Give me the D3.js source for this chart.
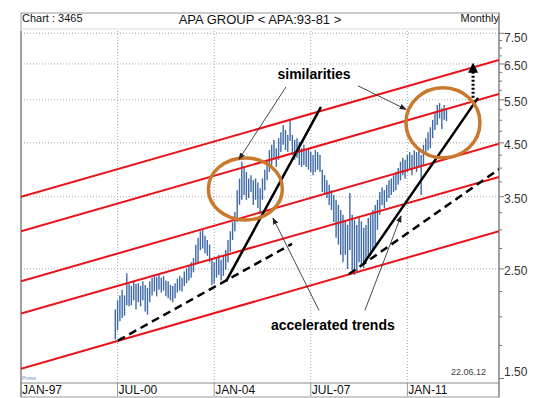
<!DOCTYPE html>
<html>
<head>
<meta charset="utf-8">
<script src="https://cdn.jsdelivr.net/npm/d3@7"></script>
<style>
body { margin: 0; background: #fff; }
svg text { font-family: "Liberation Sans", Arial, sans-serif; }
</style>
</head>
<body>
<div id="chart"></div>
<script>
// svg size
var width = 550, height = 398;

// monthly bars, first one is Jun 2000
var firstMonth = 2000 + 5/12;
var highs = [2.07, 2.16, 2.21, 2.27, 2.21, 2.45, 2.33,
    2.31, 2.36, 2.33, 2.34, 2.31, 2.36, 2.32, 2.29, 2.36, 2.40, 2.42, 2.41,
    2.43, 2.40, 2.42, 2.37, 2.36, 2.32, 2.31, 2.34, 2.39, 2.42, 2.40, 2.47,
    2.51, 2.54, 2.58, 2.63, 2.80, 2.89, 2.98, 3.00, 2.92, 2.86, 2.80, 2.63,
    2.58, 2.63, 2.67, 2.61, 2.66, 2.73, 2.86, 2.98, 3.11, 3.26, 3.61, 3.81,
    4.12, 4.04, 3.93, 3.81, 3.87, 3.78, 3.81, 3.74, 3.64, 3.81, 3.97, 4.16,
    4.35, 4.46, 4.56, 4.39, 4.60, 4.73, 4.89, 4.78, 4.67, 5.01, 4.67, 4.56,
    4.60, 4.52, 4.39, 4.46, 4.35, 4.39, 4.31, 4.25, 4.35, 4.31, 4.25, 3.97,
    3.87, 3.78, 3.70, 3.61, 3.53, 3.45, 3.37, 3.29, 3.22, 3.14, 3.07, 3.56,
    3.22, 3.14, 3.07, 3.17, 3.12, 3.03, 3.07, 3.17, 3.22, 3.29, 3.37, 3.45,
    3.58, 3.66, 3.61, 3.70, 3.78, 3.81, 3.87, 3.93, 4.00, 4.12, 4.20, 4.16,
    4.25, 4.31, 4.25, 4.35, 4.31, 4.39, 4.25, 4.46, 4.60, 4.73, 4.84, 5.01,
    5.20, 5.37, 5.42, 5.29, 5.37, 5.29];
var lows = [1.80, 1.88, 1.96, 1.99, 2.01, 2.11, 2.10,
    2.11, 2.16, 2.07, 2.14, 2.10, 2.16, 2.05, 2.02, 2.14, 2.21, 2.25, 2.20,
    2.27, 2.24, 2.26, 2.20, 2.18, 2.16, 2.14, 2.18, 2.24, 2.26, 2.25, 2.31,
    2.34, 2.37, 2.40, 2.46, 2.55, 2.58, 2.73, 2.75, 2.69, 2.66, 2.58, 2.32,
    2.34, 2.40, 2.43, 2.37, 2.42, 2.49, 2.58, 2.71, 2.86, 2.98, 3.11, 3.37,
    3.45, 3.53, 3.45, 3.48, 3.58, 3.37, 3.45, 3.32, 3.23, 3.45, 3.61, 3.78,
    3.93, 4.06, 4.20, 4.02, 4.16, 4.31, 4.46, 4.35, 4.31, 4.54, 4.25, 4.16,
    4.20, 4.06, 4.02, 4.06, 4.02, 3.97, 3.93, 3.87, 3.93, 3.97, 3.93, 3.58,
    3.53, 3.48, 3.37, 3.29, 3.11, 2.89, 2.80, 2.67, 2.58, 2.67, 2.50, 2.73,
    2.49, 2.43, 2.46, 2.58, 2.55, 2.51, 2.58, 2.63, 2.67, 2.73, 2.80, 3.00,
    3.22, 3.37, 3.32, 3.42, 3.48, 3.53, 3.58, 3.61, 3.70, 3.78, 3.87, 3.81,
    3.93, 3.97, 3.87, 4.02, 3.93, 4.02, 3.53, 4.06, 4.25, 4.35, 4.39, 4.60,
    4.78, 4.89, 5.04, 4.80, 5.01, 4.98];

// axes
var yearStart = 1997, yearEnd = 2014.32;
var priceMin = 1.469, priceMax = 7.58;
var yTicks = [7.5, 6.5, 5.5, 4.5, 3.5, 2.5, 1.5];
var xTicks = [1997, 2000.5, 2004, 2007.5, 2011];
var xTickLabels = ["JAN-97", "JUL-00", "JAN-04", "JUL-07", "JAN-11"];

// channel lines (price at left and right edge)
var channelLeft = [3.50, 2.98, 2.36, 2.03, 1.57];
var channelRight = [6.62, 5.65, 4.48, 3.84, 2.98];

// trend lines [year1, price1, year2, price2]
var dashedTrends = [[2000.51, 1.79, 2006.82, 2.81], [2008.88, 2.44, 2014.32, 3.98]];
var solidTrends = [[2004.43, 2.36, 2007.87, 5.32], [2009.43, 2.57, 2013.56, 5.55]];
var targetArrow = [2013.38, 5.55, 2013.38, 6.30];

// annotations
var circles = [[2005.13, 3.63], [2012.29, 4.94]];
var pointers = [[2006.60, 5.84, 2004.90, 4.17], [2009.21, 5.87, 2010.95, 5.26],
                [2007.80, 2.06, 2006.13, 3.17], [2009.46, 2.06, 2010.77, 3.20]];
var notes = [{text: "similarities", x: 2007.62, y: 6.05},
             {text: "accelerated trends", x: 2008.30, y: 1.88}];

var pLeft = 21, pRight = 499, pTop = 31, pBottom = 383;

var x = d3.scaleLinear().domain([yearStart, yearEnd]).range([pLeft, pRight]);
var y = d3.scaleLog().domain([priceMin, priceMax]).range([pBottom, pTop]);

var svg = d3.select("#chart").append("svg")
    .attr("width", width)
    .attr("height", height);

var defs = svg.append("defs");
defs.append("clipPath").attr("id", "plot")
    .append("rect").attr("x", pLeft).attr("y", pTop)
    .attr("width", pRight - pLeft).attr("height", pBottom - pTop);
defs.append("marker").attr("id", "thin")
    .attr("viewBox", "0 0 10 10").attr("refX", 9).attr("refY", 5)
    .attr("markerWidth", 7).attr("markerHeight", 7).attr("orient", "auto")
    .attr("markerUnits", "userSpaceOnUse")
    .append("path").attr("d", "M0,1 L10,5 L0,9 Z").attr("fill", "#222");
defs.append("marker").attr("id", "fat")
    .attr("viewBox", "0 0 10 10").attr("refX", 2).attr("refY", 5)
    .attr("markerWidth", 10).attr("markerHeight", 10).attr("orient", "auto")
    .attr("markerUnits", "userSpaceOnUse")
    .append("path").attr("d", "M0,0 L10,5 L0,10 Z").attr("fill", "#000");

// header
svg.append("rect").attr("x", pLeft).attr("y", 13)
    .attr("width", pRight - pLeft).attr("height", 384)
    .attr("fill", "none").attr("stroke", "#999").attr("stroke-width", 1);
svg.append("line").attr("x1", pLeft).attr("x2", pRight).attr("y1", 29).attr("y2", 29)
    .attr("stroke", "#ddd");
svg.append("text").attr("x", pLeft + 1).attr("y", 22)
    .attr("font-size", 11).attr("fill", "#111").text("Chart : 3465");
svg.append("text").attr("x", 260).attr("y", 24).attr("text-anchor", "middle")
    .attr("font-size", 13).attr("fill", "#111").text("APA GROUP < APA:93-81 >");
svg.append("text").attr("x", pRight).attr("y", 22).attr("text-anchor", "end")
    .attr("font-size", 11).attr("fill", "#111").text("Monthly");

// grid
var grid = svg.append("g").attr("stroke", "#aaa").attr("stroke-dasharray", "1,2");
grid.selectAll(".gx").data(xTicks.slice(1)).enter().append("line")
    .attr("x1", function(d){ return x(d); }).attr("x2", function(d){ return x(d); })
    .attr("y1", pTop).attr("y2", pBottom);
grid.selectAll(".gy").data(yTicks.slice(0, 6)).enter().append("line")
    .attr("x1", pLeft).attr("x2", pRight)
    .attr("y1", function(d){ return y(d); }).attr("y2", function(d){ return y(d); });

// bottom axis row
svg.append("line").attr("x1", pLeft).attr("x2", pRight).attr("y1", pBottom).attr("y2", pBottom)
    .attr("stroke", "#888");
svg.append("line").attr("x1", pLeft).attr("x2", pLeft).attr("y1", pTop).attr("y2", 397)
    .attr("stroke", "#777");
svg.selectAll(".xt").data(xTicks).enter().append("line")
    .attr("x1", function(d){ return x(d); }).attr("x2", function(d){ return x(d); })
    .attr("y1", pBottom).attr("y2", 396).attr("stroke", "#999");
svg.selectAll(".xl").data(xTicks).enter().append("text")
    .attr("x", function(d){ return x(d) + 1; }).attr("y", 394)
    .attr("font-size", 12).attr("fill", "#111")
    .text(function(d, i){ return xTickLabels[i]; });

// right price axis
svg.append("line").attr("x1", pRight).attr("x2", pRight).attr("y1", 13).attr("y2", 397)
    .attr("stroke", "#777");
var minor = d3.range(1.5, 7.51, 0.25);
svg.selectAll(".yt").data(minor).enter().append("line")
    .attr("x1", pRight).attr("x2", function(d){ return yTicks.indexOf(d) >= 0 ? pRight + 5 : pRight + 3; })
    .attr("y1", function(d){ return y(d); }).attr("y2", function(d){ return y(d); })
    .attr("stroke", "#777");
svg.selectAll(".yl").data(yTicks).enter().append("text")
    .attr("x", pRight + 5)
    .attr("y", function(d){ return Math.min(Math.max(y(d) + 6, 42), 376); })
    .attr("font-size", 12).attr("fill", "#333")
    .text(function(d){ return d3.format(".2f")(d); });

svg.append("text").attr("x", 486).attr("y", 375).attr("text-anchor", "end")
    .attr("font-size", 9).attr("fill", "#444").text("22.06.12");
svg.append("text").attr("x", 22).attr("y", 380)
    .attr("font-size", 5).attr("fill", "#6a8fd0").text("Prowe");

var plot = svg.append("g").attr("clip-path", "url(#plot)");

// price bars
plot.append("g").selectAll("line").data(highs).enter().append("line")
    .attr("x1", function(d, i){ return x(firstMonth + i/12); })
    .attr("x2", function(d, i){ return x(firstMonth + i/12); })
    .attr("y1", function(d){ return y(d); })
    .attr("y2", function(d, i){ return y(lows[i]); })
    .attr("stroke", "#3f6aa8").attr("stroke-width", 1.4);

// channel
plot.append("g").selectAll("line").data(channelLeft).enter().append("line")
    .attr("x1", x(yearStart)).attr("x2", x(yearEnd))
    .attr("y1", function(d){ return y(d); })
    .attr("y2", function(d, i){ return y(channelRight[i]); })
    .attr("stroke", "#e8121a").attr("stroke-width", 2);

// trends
plot.append("g").selectAll("line").data(dashedTrends).enter().append("line")
    .attr("x1", function(d){ return x(d[0]); }).attr("y1", function(d){ return y(d[1]); })
    .attr("x2", function(d){ return x(d[2]); }).attr("y2", function(d){ return y(d[3]); })
    .attr("stroke", "#000").attr("stroke-width", 2.5).attr("stroke-dasharray", "8,5");
plot.append("g").selectAll("line").data(solidTrends).enter().append("line")
    .attr("x1", function(d){ return x(d[0]); }).attr("y1", function(d){ return y(d[1]); })
    .attr("x2", function(d){ return x(d[2]); }).attr("y2", function(d){ return y(d[3]); })
    .attr("stroke", "#000").attr("stroke-width", 2.5);
svg.append("line")
    .attr("x1", x(targetArrow[0])).attr("y1", y(targetArrow[1]))
    .attr("x2", x(targetArrow[2])).attr("y2", y(targetArrow[3]))
    .attr("stroke", "#000").attr("stroke-width", 3).attr("stroke-dasharray", "2,2")
    .attr("marker-end", "url(#fat)");

// circles
svg.append("g").selectAll("ellipse").data(circles).enter().append("ellipse")
    .attr("cx", function(d){ return x(d[0]); }).attr("cy", function(d){ return y(d[1]); })
    .attr("rx", 37).attr("ry", function(d, i){ return i == 0 ? 31 : 35; })
    .attr("fill", "none").attr("stroke", "#c9782c").attr("stroke-width", 3.5);

// pointers
svg.append("g").selectAll("line").data(pointers).enter().append("line")
    .attr("x1", function(d){ return x(d[0]); }).attr("y1", function(d){ return y(d[1]); })
    .attr("x2", function(d){ return x(d[2]); }).attr("y2", function(d){ return y(d[3]); })
    .attr("stroke", "#333").attr("stroke-width", 0.9)
    .attr("marker-end", "url(#thin)");

svg.append("g").selectAll("text").data(notes).enter().append("text")
    .attr("x", function(d){ return x(d.x); }).attr("y", function(d){ return y(d.y); })
    .attr("text-anchor", "middle").attr("font-size", 14).attr("font-weight", "bold")
    .attr("fill", "#000")
    .text(function(d){ return d.text; });
</script>
</body>
</html>
